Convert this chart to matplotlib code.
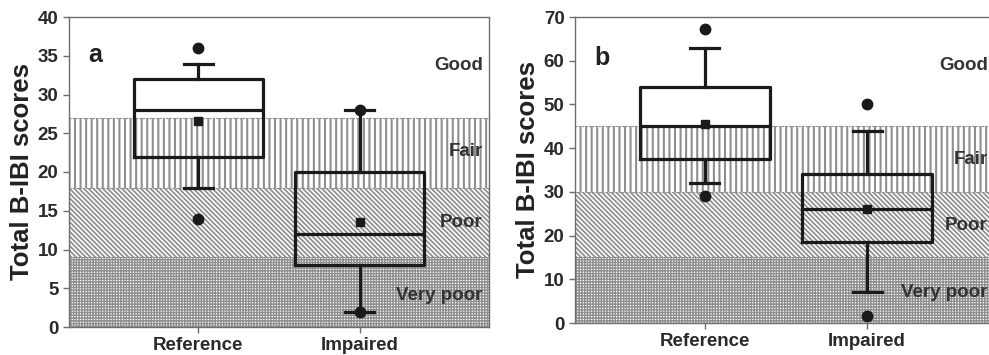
import matplotlib
matplotlib.use("Agg")
import matplotlib as mpl
import matplotlib.pyplot as plt

plt.rcParams['font.family'] = ['Liberation Sans', 'DejaVu Sans']
plt.rcParams['hatch.linewidth'] = 1.0
plt.rcParams['hatch.color'] = '#8f8f8f'

categories = ['Reference', 'Impaired']

# Panel a
a_q1 = [22, 8]
a_med = [28, 12]
a_q3 = [32, 20]
a_whislo = [18, 2]
a_whishi = [34, 28]
a_mean = [26.6, 13.6]
a_fliers = [[36, 14], [28, 2]]
a_bands = [0, 9, 18, 27, 40]

# Panel b
b_q1 = [37.5, 18.5]
b_med = [45, 26]
b_q3 = [54, 34]
b_whislo = [32, 7.2]
b_whishi = [63, 44]
b_mean = [45.6, 26]
b_fliers = [[67.3, 29], [50, 1.6]]
b_bands = [0, 15, 30, 45, 70]

band_names = ['Very poor', 'Poor', 'Fair', 'Good']
band_hatches = ['++++++', '\\\\\\\\\\\\\\', '|||', None]
band_hatch_lw = [1.0, 1.25, 1.5, 1.0]
yticks_a = [0, 5, 10, 15, 20, 25, 30, 35, 40]
yticks_b = [0, 10, 20, 30, 40, 50, 60, 70]

fig = plt.figure(figsize=(9.89, 3.55), dpi=100)
ax_a = fig.add_axes([69/989, 1-327/355, 420/989, 310/355])
ax_b = fig.add_axes([575/989, 1-323/355, 422/989, 306/355])

def draw(ax, q1, med, q3, lo, hi, mean, fliers, bands, yticks, letter, label_y, letter_y, label_x):
    ymax = bands[-1]
    for i in range(4):
        with mpl.rc_context({'hatch.linewidth': band_hatch_lw[i]}):
            p = ax.axhspan(bands[i], bands[i+1], facecolor='white', edgecolor='#8f8f8f',
                           hatch=band_hatches[i], linewidth=0, zorder=0)
        if hasattr(p, 'set_hatch_linewidth'):
            p.set_hatch_linewidth(band_hatch_lw[i])
    for b in bands[1:-1]:
        ax.axhline(b, color='#8f8f8f', lw=0.8, ls=(0, (2, 1)), zorder=0.5)
    stats = []
    for i in range(len(categories)):
        stats.append(dict(label=categories[i], q1=q1[i], med=med[i], q3=q3[i],
                          whislo=lo[i], whishi=hi[i], mean=mean[i], fliers=fliers[i]))
    lc = '#1a1a1a'
    ax.bxp(stats, positions=[1, 2], widths=0.8, capwidths=0.18, showmeans=True,
           patch_artist=False,
           boxprops=dict(color=lc, lw=2.3),
           medianprops=dict(color=lc, lw=2.3),
           whiskerprops=dict(color=lc, lw=2.3),
           capprops=dict(color=lc, lw=2.3),
           meanprops=dict(marker='s', markerfacecolor=lc, markeredgecolor=lc, markersize=6),
           flierprops=dict(marker='o', markerfacecolor=lc, markeredgecolor=lc, markersize=7.5))
    ax.set_xlim(0.2, 2.8)
    ax.set_ylim(0, ymax)
    ax.set_yticks(yticks)
    ax.set_xticks([1, 2])
    ax.set_xticklabels(categories)
    for s in ax.spines.values():
        s.set_color('#6e6e6e')
        s.set_linewidth(1)
    ax.tick_params(axis='both', colors='#6e6e6e', labelcolor='#2a2a2a', length=4, width=1, direction='out')
    for t in ax.get_yticklabels():
        t.set_fontweight('bold'); t.set_fontsize(13.5)
    for t in ax.get_xticklabels():
        t.set_fontweight('bold'); t.set_fontsize(13.5)
    ax.set_ylabel('Total B-IBI scores', fontsize=18.5, fontweight='bold', color='#222222', labelpad=3)
    for name, y in zip(band_names, label_y):
        ax.text(label_x, y, name, transform=ax.get_yaxis_transform(), ha='right', va='center',
                fontsize=13.5, fontweight='bold', color='#333333', zorder=5)
    ax.text(0.32, letter_y, letter, ha='left', va='center', fontsize=18, fontweight='bold', color='#222222')

draw(ax_a, a_q1, a_med, a_q3, a_whislo, a_whishi, a_mean, a_fliers, a_bands, yticks_a, 'a',
     [4.1, 13.5, 22.6, 33.8], 35.1, 0.985)
draw(ax_b, b_q1, b_med, b_q3, b_whislo, b_whishi, b_mean, b_fliers, b_bands, yticks_b, 'b',
     [6.9, 22.4, 37.5, 59.0], 60.6, 0.978)

fig.savefig('out.png', dpi=100, facecolor='white')
